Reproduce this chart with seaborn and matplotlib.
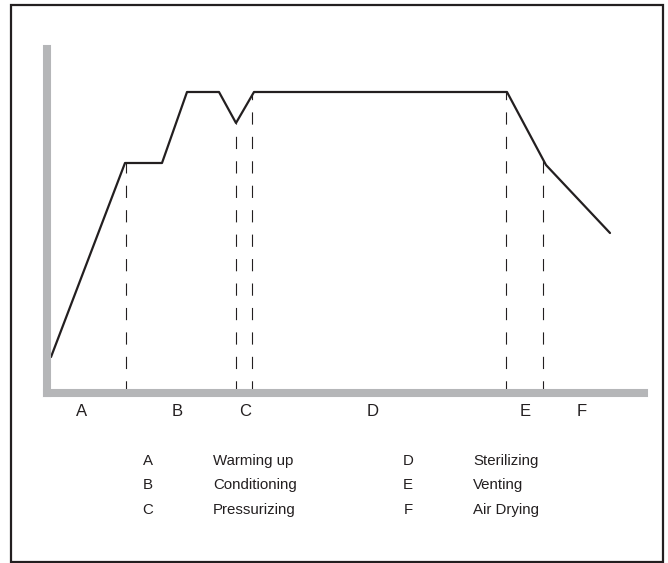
import numpy as np
import matplotlib
matplotlib.use("Agg")
import matplotlib.pyplot as plt
import seaborn as sns
from matplotlib.patches import Rectangle

# cycle profile (time vs. temperature, arbitrary units)
time = [4, 78, 115, 140, 172, 189, 207, 460, 499, 563]
temp = [36, 230, 230, 301, 301, 270, 301, 301, 228, 160]

# phase boundaries and labels
boundaries = [79, 189, 205, 459, 496]
phase_letters = ["A", "B", "C", "D", "E", "F"]
phase_pos = [35, 130, 198, 326, 478, 535]
phase_names = ["Warming up", "Conditioning", "Pressurizing",
               "Sterilizing", "Venting", "Air Drying"]

ink = "#231f20"
grey = "#b5b6b8"

sns.set_style("white")
plt.rcParams["font.family"] = ["Liberation Sans", "DejaVu Sans"]

W, H = 668, 563
fig = plt.figure(figsize=(W / 100, H / 100), dpi=100)
ax = fig.add_axes([47 / W, 170 / H, 597 / W, 344 / H])

sns.lineplot(x=time, y=temp, ax=ax, color=ink, lw=1.6)
tops = np.interp(boundaries, time, temp)
# draw dashes from the axis upward
ax.vlines(boundaries, 0, tops, colors=ink, linestyles=(0, (11, 11)), lw=0.8)

ax.set_xlim(0, 597)
ax.set_ylim(0, 344)
ax.set_xticks([])
ax.set_yticks([])
for s in ["top", "right"]:
    ax.spines[s].set_visible(False)
for s in ["left", "bottom"]:
    ax.spines[s].set_color(grey)
    ax.spines[s].set_linewidth(5.8)
    ax.spines[s].set_capstyle("projecting")

for p, l in zip(phase_pos, phase_letters):
    ax.text(p, -18, l, ha="center", va="center", fontsize=12,
            color=ink, clip_on=False)

# legend below the chart
rows = [461, 485, 510]
for i, (l, n) in enumerate(zip(phase_letters, phase_names)):
    col = i // 3
    y = 1 - rows[i % 3] / H
    lx = [148, 408][col] / W
    nx = [213, 473][col] / W
    fig.text(lx, y, l, ha="center", va="center", fontsize=10.8, color=ink)
    fig.text(nx, y, n, ha="left", va="center", fontsize=10.8, color=ink)

fig.patches.append(Rectangle((11 / W, 1.5 / H), 652 / W, 556.5 / H,
                             transform=fig.transFigure, fill=False,
                             edgecolor=ink, lw=1.6))

fig.savefig("out.png", dpi=100)
